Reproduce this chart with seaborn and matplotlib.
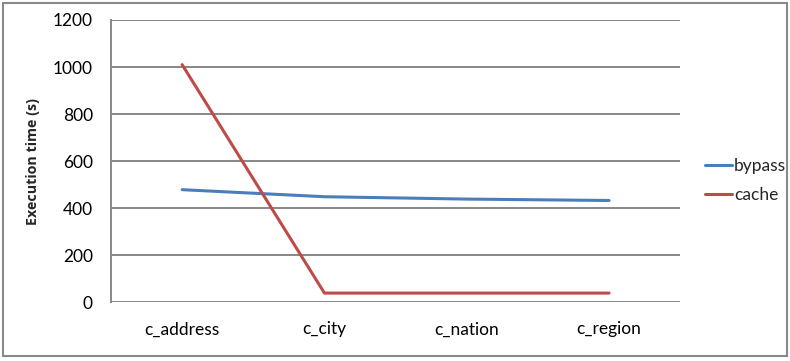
import matplotlib
matplotlib.use("Agg")
import matplotlib.pyplot as plt
from matplotlib.patches import Rectangle
from matplotlib.lines import Line2D
import seaborn as sns
import pandas as pd

categories = ["c_address", "c_city", "c_nation", "c_region"]
bypass = [478, 448, 438, 432]
cache = [1010, 38, 38, 38]

df = pd.DataFrame({
    "column": categories * 2,
    "time": bypass + cache,
    "mode": ["bypass"] * len(categories) + ["cache"] * len(categories),
})
df["pos"] = list(range(len(categories))) * 2

sns.set_style("white")
plt.rcParams["font.family"] = ["Lato", "DejaVu Sans"]

fig = plt.figure(figsize=(7.9, 3.61), dpi=100)
ax = fig.add_axes([0.1405, 0.1634, 0.7205, 0.7812])

palette = {"bypass": "#4A7EBB", "cache": "#BE4B48"}
sns.lineplot(data=df, x="pos", y="time", hue="mode", palette=palette,
             linewidth=2.2, ax=ax, legend=False, sort=False)

ax.set_xlim(-0.5, len(categories) - 0.5)
ax.set_ylim(0, 1200)
ax.set_yticks(range(0, 1201, 200))
ax.set_xticks(range(len(categories)))
ax.set_xticklabels(categories)
ax.tick_params(axis="both", length=0, labelsize=12.5, colors="black")
ax.tick_params(axis="x", pad=14)
ax.tick_params(axis="y", pad=13)
ax.set_xlabel("")
ax.set_ylabel("Execution time (s)", fontsize=10.3, fontweight="bold",
              family=["Open Sans", "DejaVu Sans"], labelpad=9)

ax.grid(axis="y", color="#878787", linewidth=1.4)
ax.set_axisbelow(True)
for side in ["top", "right", "bottom"]:
    ax.spines[side].set_visible(False)
ax.spines["left"].set_color("#878787")
ax.spines["left"].set_linewidth(1.4)

handles = [Line2D([], [], color=palette[m], linewidth=2.2) for m in ["bypass", "cache"]]
fig.legend(handles, ["bypass", "cache"], loc="center left",
           bbox_to_anchor=(0.872, 0.5), frameon=False, fontsize=12.5,
           handlelength=1.6, handletextpad=0.1, labelspacing=0.78)

fig.patches.append(Rectangle((0.004, 0.014), 0.992, 0.978, transform=fig.transFigure,
                             fill=False, edgecolor="#898989", linewidth=1.5))

fig.savefig("out.png", dpi=100)
